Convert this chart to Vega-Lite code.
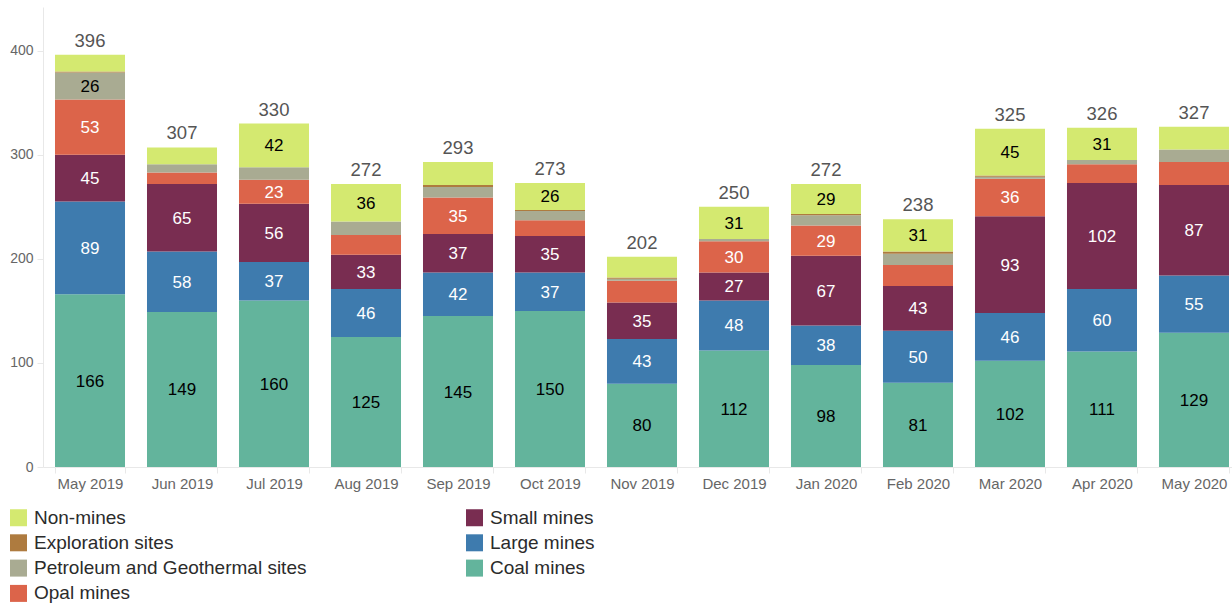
{
  "$schema": "https://vega.github.io/schema/vega-lite/v6.json",
  "width": 1189,
  "height": 460,
  "padding": {"left": 9, "top": 7, "right": 0, "bottom": 0},
  "autosize": {"type": "pad"},
  "config": {
    "view": {"stroke": null},
    "font": "Liberation Sans",
    "legend": {
      "orient": "none", "legendX": -34, "legendY": 501, "columns": 2, "columnPadding": 158,
      "rowPadding": 5.3, "symbolType": "square", "symbolSize": 289, "symbolStrokeWidth": 0,
      "labelFontSize": 19, "labelColor": "#2b2b2b", "labelOffset": 6, "padding": 0, "labelLimit": 400
    }
  },
  "data": {"values": [
    {"month": "May 2019", "category": "Coal mines", "value": 166},
    {"month": "May 2019", "category": "Large mines", "value": 89},
    {"month": "May 2019", "category": "Small mines", "value": 45},
    {"month": "May 2019", "category": "Opal mines", "value": 53},
    {"month": "May 2019", "category": "Petroleum and Geothermal sites", "value": 26},
    {"month": "May 2019", "category": "Exploration sites", "value": 1},
    {"month": "May 2019", "category": "Non-mines", "value": 16},
    {"month": "Jun 2019", "category": "Coal mines", "value": 149},
    {"month": "Jun 2019", "category": "Large mines", "value": 58},
    {"month": "Jun 2019", "category": "Small mines", "value": 65},
    {"month": "Jun 2019", "category": "Opal mines", "value": 11},
    {"month": "Jun 2019", "category": "Petroleum and Geothermal sites", "value": 8},
    {"month": "Jun 2019", "category": "Exploration sites", "value": 0},
    {"month": "Jun 2019", "category": "Non-mines", "value": 16},
    {"month": "Jul 2019", "category": "Coal mines", "value": 160},
    {"month": "Jul 2019", "category": "Large mines", "value": 37},
    {"month": "Jul 2019", "category": "Small mines", "value": 56},
    {"month": "Jul 2019", "category": "Opal mines", "value": 23},
    {"month": "Jul 2019", "category": "Petroleum and Geothermal sites", "value": 12},
    {"month": "Jul 2019", "category": "Exploration sites", "value": 0},
    {"month": "Jul 2019", "category": "Non-mines", "value": 42},
    {"month": "Aug 2019", "category": "Coal mines", "value": 125},
    {"month": "Aug 2019", "category": "Large mines", "value": 46},
    {"month": "Aug 2019", "category": "Small mines", "value": 33},
    {"month": "Aug 2019", "category": "Opal mines", "value": 19},
    {"month": "Aug 2019", "category": "Petroleum and Geothermal sites", "value": 13},
    {"month": "Aug 2019", "category": "Exploration sites", "value": 0},
    {"month": "Aug 2019", "category": "Non-mines", "value": 36},
    {"month": "Sep 2019", "category": "Coal mines", "value": 145},
    {"month": "Sep 2019", "category": "Large mines", "value": 42},
    {"month": "Sep 2019", "category": "Small mines", "value": 37},
    {"month": "Sep 2019", "category": "Opal mines", "value": 35},
    {"month": "Sep 2019", "category": "Petroleum and Geothermal sites", "value": 10},
    {"month": "Sep 2019", "category": "Exploration sites", "value": 2},
    {"month": "Sep 2019", "category": "Non-mines", "value": 22},
    {"month": "Oct 2019", "category": "Coal mines", "value": 150},
    {"month": "Oct 2019", "category": "Large mines", "value": 37},
    {"month": "Oct 2019", "category": "Small mines", "value": 35},
    {"month": "Oct 2019", "category": "Opal mines", "value": 15},
    {"month": "Oct 2019", "category": "Petroleum and Geothermal sites", "value": 9},
    {"month": "Oct 2019", "category": "Exploration sites", "value": 1},
    {"month": "Oct 2019", "category": "Non-mines", "value": 26},
    {"month": "Nov 2019", "category": "Coal mines", "value": 80},
    {"month": "Nov 2019", "category": "Large mines", "value": 43},
    {"month": "Nov 2019", "category": "Small mines", "value": 35},
    {"month": "Nov 2019", "category": "Opal mines", "value": 21},
    {"month": "Nov 2019", "category": "Petroleum and Geothermal sites", "value": 2},
    {"month": "Nov 2019", "category": "Exploration sites", "value": 1},
    {"month": "Nov 2019", "category": "Non-mines", "value": 20},
    {"month": "Dec 2019", "category": "Coal mines", "value": 112},
    {"month": "Dec 2019", "category": "Large mines", "value": 48},
    {"month": "Dec 2019", "category": "Small mines", "value": 27},
    {"month": "Dec 2019", "category": "Opal mines", "value": 30},
    {"month": "Dec 2019", "category": "Petroleum and Geothermal sites", "value": 2},
    {"month": "Dec 2019", "category": "Exploration sites", "value": 0},
    {"month": "Dec 2019", "category": "Non-mines", "value": 31},
    {"month": "Jan 2020", "category": "Coal mines", "value": 98},
    {"month": "Jan 2020", "category": "Large mines", "value": 38},
    {"month": "Jan 2020", "category": "Small mines", "value": 67},
    {"month": "Jan 2020", "category": "Opal mines", "value": 29},
    {"month": "Jan 2020", "category": "Petroleum and Geothermal sites", "value": 10},
    {"month": "Jan 2020", "category": "Exploration sites", "value": 1},
    {"month": "Jan 2020", "category": "Non-mines", "value": 29},
    {"month": "Feb 2020", "category": "Coal mines", "value": 81},
    {"month": "Feb 2020", "category": "Large mines", "value": 50},
    {"month": "Feb 2020", "category": "Small mines", "value": 43},
    {"month": "Feb 2020", "category": "Opal mines", "value": 20},
    {"month": "Feb 2020", "category": "Petroleum and Geothermal sites", "value": 11},
    {"month": "Feb 2020", "category": "Exploration sites", "value": 2},
    {"month": "Feb 2020", "category": "Non-mines", "value": 31},
    {"month": "Mar 2020", "category": "Coal mines", "value": 102},
    {"month": "Mar 2020", "category": "Large mines", "value": 46},
    {"month": "Mar 2020", "category": "Small mines", "value": 93},
    {"month": "Mar 2020", "category": "Opal mines", "value": 36},
    {"month": "Mar 2020", "category": "Petroleum and Geothermal sites", "value": 2},
    {"month": "Mar 2020", "category": "Exploration sites", "value": 1},
    {"month": "Mar 2020", "category": "Non-mines", "value": 45},
    {"month": "Apr 2020", "category": "Coal mines", "value": 111},
    {"month": "Apr 2020", "category": "Large mines", "value": 60},
    {"month": "Apr 2020", "category": "Small mines", "value": 102},
    {"month": "Apr 2020", "category": "Opal mines", "value": 18},
    {"month": "Apr 2020", "category": "Petroleum and Geothermal sites", "value": 4},
    {"month": "Apr 2020", "category": "Exploration sites", "value": 0},
    {"month": "Apr 2020", "category": "Non-mines", "value": 31},
    {"month": "May 2020", "category": "Coal mines", "value": 129},
    {"month": "May 2020", "category": "Large mines", "value": 55},
    {"month": "May 2020", "category": "Small mines", "value": 87},
    {"month": "May 2020", "category": "Opal mines", "value": 22},
    {"month": "May 2020", "category": "Petroleum and Geothermal sites", "value": 12},
    {"month": "May 2020", "category": "Exploration sites", "value": 0},
    {"month": "May 2020", "category": "Non-mines", "value": 22}
  ]},
  "transform": [
    {"calculate": "indexof(['Coal mines','Large mines','Small mines','Opal mines','Petroleum and Geothermal sites','Exploration sites','Non-mines'], datum.category)", "as": "k"},
    {"stack": "value", "groupby": ["month"], "sort": [{"field": "k", "order": "ascending"}], "as": ["v0", "v1"]},
    {"calculate": "(datum.v0 + datum.v1) / 2", "as": "mid"}
  ],
  "encoding": {
    "x": {
      "field": "month", "type": "nominal",
      "sort": ["May 2019","Jun 2019","Jul 2019","Aug 2019","Sep 2019","Oct 2019","Nov 2019","Dec 2019","Jan 2020","Feb 2020","Mar 2020","Apr 2020","May 2020"],
      "scale": {"paddingInner": 0.239, "paddingOuter": 0.0815, "align": 0.8},
      "axis": {"title": null, "labelAngle": 0, "tickBand": "extent", "domainColor": "#e8e8e8", "tickColor": "#e8e8e8", "tickSize": 6, "labelColor": "#666666", "labelFontSize": 15, "labelPadding": 3}
    }
  },
  "layer": [
    {
      "mark": {"type": "bar"},
      "encoding": {
        "y": {"field": "v1", "type": "quantitative", "scale": {"domain": [0, 442], "nice": false},
          "axis": {"title": null, "values": [0, 100, 200, 300, 400], "grid": false, "domainColor": "#e8e8e8", "tickColor": "#e8e8e8", "tickSize": 6, "labelColor": "#666666", "labelFontSize": 14, "labelPadding": 4}},
        "y2": {"field": "v0"},
        "color": {
          "field": "category", "type": "nominal",
          "scale": {
            "domain": ["Non-mines","Exploration sites","Petroleum and Geothermal sites","Opal mines","Small mines","Large mines","Coal mines"],
            "range": ["#d4e970","#ae7b3f","#a9ab92","#dc644a","#792d51","#3e7bae","#63b49c"]
          },
          "legend": {"title": null}
        }
      }
    },
    {
      "transform": [{"filter": "datum.value >= 23"}],
      "mark": {"type": "text", "fontSize": 17, "baseline": "middle", "dy": 1},
      "encoding": {
        "y": {"field": "mid", "type": "quantitative"},
        "text": {"field": "value", "type": "quantitative"},
        "color": {"condition": {"test": "indexof(['Small mines','Large mines','Opal mines'], datum.category) >= 0", "value": "#ffffff"}, "value": "#000000"}
      }
    },
    {
      "transform": [{"aggregate": [{"op": "sum", "field": "value", "as": "total"}], "groupby": ["month"]}],
      "mark": {"type": "text", "fontSize": 18.5, "baseline": "alphabetic", "dy": -8, "color": "#555555"},
      "encoding": {
        "y": {"field": "total", "type": "quantitative"},
        "text": {"field": "total", "type": "quantitative"}
      }
    }
  ]
}
